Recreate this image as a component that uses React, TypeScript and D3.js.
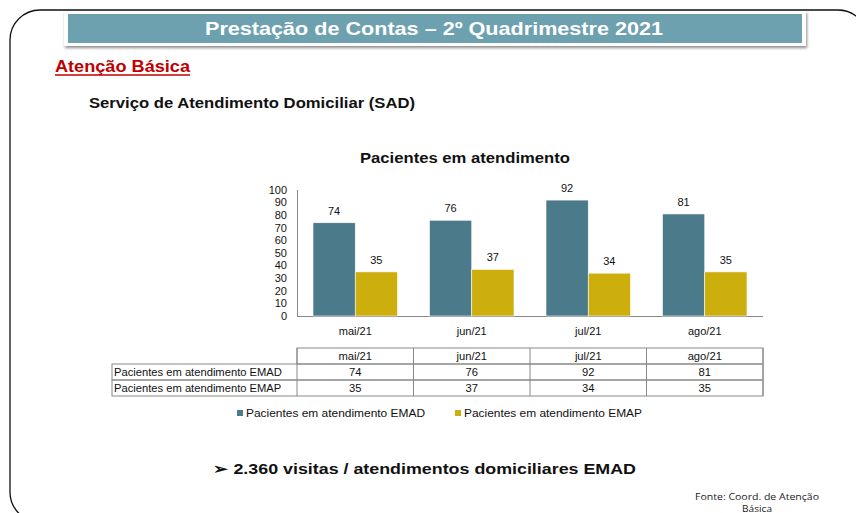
import React from "react";
import * as d3 from "d3";

const categories = ["mai/21", "jun/21", "jul/21", "ago/21"];
const seriesNames = ["Pacientes em atendimento EMAD", "Pacientes em atendimento EMAP"];
const emad = [74, 76, 92, 81];
const emap = [35, 37, 34, 35];
const yTicks = [0, 10, 20, 30, 40, 50, 60, 70, 80, 90, 100];
const colors = ["#4B7A8A", "#CCAE0C"];

const W = 856;
const H = 513;
const FONT = "'Liberation Sans', Arial, sans-serif";

export default function App() {
  const x0 = d3.scaleBand<string>().domain(categories).range([297, 763]).paddingInner(0).paddingOuter(0);
  const x1 = d3.scaleBand<string>().domain(["emad", "emap"]).range([16, x0.bandwidth() - 16]).padding(0);
  const y = d3.scaleLinear().domain([0, 100]).range([316, 190]);
  const series = [emad, emap];
  const keys = ["emad", "emap"];

  const tableTop = 348;
  const rowH = 16;
  const tableLeft = 112;
  const colStart = 297;

  return (
    <svg width={W} height={H} style={{ position: "absolute", left: 0, top: 0, background: "#fff" }}>
      <defs>
        <filter id="sh" x="-5%" y="-30%" width="110%" height="170%">
          <feDropShadow dx="1" dy="2" stdDeviation="1.5" floodColor="#000" floodOpacity="0.45" />
        </filter>
      </defs>
      <rect x={0} y={0} width={W} height={H} fill="#fff" />
      {/* outer rounded border */}
      <rect x={10} y={10} width={858} height={512} rx={30} ry={30} fill="none" stroke="#111" strokeWidth={1.3} />
      {/* banner */}
      <rect x={64} y={11} width={742} height={35} fill="#fff" filter="url(#sh)" />
      <rect x={68} y={14} width={734} height={29} fill="#6DA1AF" />
      <text x={434} y={35} textAnchor="middle" fill="#fff" fontFamily={FONT} fontWeight="bold" fontSize={19}
        textLength={458} lengthAdjust="spacingAndGlyphs">
        Prestação de Contas – 2º Quadrimestre 2021
      </text>
      {/* section */}
      <text x={55} y={72} fill="#C00000" fontFamily={FONT} fontWeight="bold" fontSize={17}
        textLength={135} lengthAdjust="spacingAndGlyphs">
        Atenção Básica
      </text>
      <line x1={55} x2={190} y1={75} y2={75} stroke="#C00000" strokeWidth={1.6} />
      <text x={89} y={108} fill="#111" fontFamily={FONT} fontWeight="bold" fontSize={14}
        textLength={326} lengthAdjust="spacingAndGlyphs">
        Serviço de Atendimento Domiciliar (SAD)
      </text>
      {/* chart title */}
      <text x={465} y={163} textAnchor="middle" fill="#111" fontFamily={FONT} fontWeight="bold" fontSize={14}
        textLength={210} lengthAdjust="spacingAndGlyphs">
        Pacientes em atendimento
      </text>
      {/* y axis */}
      <line x1={297.5} x2={297.5} y1={y(100)} y2={y(0)} stroke="#888" strokeWidth={1} />
      <line x1={297} x2={763} y1={y(0) + 0.5} y2={y(0) + 0.5} stroke="#888" strokeWidth={1} />
      {yTicks.map((t) => (
        <text key={t} x={287} y={y(t)} dy="0.35em" textAnchor="end" fontFamily={FONT} fontSize={11} fill="#111">
          {t}
        </text>
      ))}
      {/* bars */}
      {categories.map((c, i) => (
        <g key={c} transform={`translate(${x0(c)},0)`}>
          {keys.map((k, j) => (
            <g key={k}>
              <rect x={x1(k)} y={y(series[j][i])} width={x1.bandwidth()} height={y(0) - y(series[j][i])}
                fill={colors[j]} stroke="#fff" strokeWidth={0.6} />
              <text x={(x1(k) as number) + x1.bandwidth() / 2} y={y(series[j][i]) - 8} textAnchor="middle"
                fontFamily={FONT} fontSize={11} fill="#111">
                {series[j][i]}
              </text>
            </g>
          ))}
          <text x={x0.bandwidth() / 2} y={335} textAnchor="middle" fontFamily={FONT} fontSize={11} fill="#111">
            {c}
          </text>
        </g>
      ))}
      {/* data table */}
      <g fontFamily={FONT} fontSize={11.2} fill="#111">
        <rect x={colStart} y={tableTop} width={763 - colStart} height={rowH} fill="none" stroke="#888" />
        {categories.map((c) => (
          <g key={c}>
            <line x1={x0(c)} x2={x0(c)} y1={tableTop} y2={tableTop + rowH * 3} stroke="#888" />
            <text x={(x0(c) as number) + x0.bandwidth() / 2} y={tableTop + 12} textAnchor="middle">{c}</text>
          </g>
        ))}
        <line x1={763} x2={763} y1={tableTop} y2={tableTop + rowH * 3} stroke="#888" />
        {series.map((s, j) => (
          <g key={j}>
            <rect x={tableLeft} y={tableTop + rowH * (j + 1)} width={763 - tableLeft} height={rowH} fill="none" stroke="#888" />
            <text x={tableLeft + 2} y={tableTop + rowH * (j + 1) + 12}>{seriesNames[j]}</text>
            {s.map((v, i) => (
              <text key={i} x={(x0(categories[i]) as number) + x0.bandwidth() / 2} y={tableTop + rowH * (j + 1) + 12}
                textAnchor="middle">{v}</text>
            ))}
          </g>
        ))}
      </g>
      {/* legend */}
      <g fontFamily={FONT} fontSize={11.5} fill="#111">
        <rect x={237} y={410} width={6} height={6} fill={colors[0]} />
        <text x={246} y={417} textLength={179} lengthAdjust="spacingAndGlyphs">{seriesNames[0]}</text>
        <rect x={455} y={410} width={6} height={6} fill={colors[1]} />
        <text x={464} y={417} textLength={178} lengthAdjust="spacingAndGlyphs">{seriesNames[1]}</text>
      </g>
      {/* bullet */}
      <text x={213} y={474} fontFamily={FONT} fontWeight="bold" fontSize={15} fill="#111"
        textLength={423} lengthAdjust="spacingAndGlyphs">
        ➢ 2.360 visitas / atendimentos domiciliares EMAD
      </text>
      {/* source */}
      <text x={757} y={500} textAnchor="middle" fontFamily="'Open Sans', 'DejaVu Sans', sans-serif" fontSize={9.5}
        fill="#222" textLength={124} lengthAdjust="spacingAndGlyphs">
        Fonte: Coord. de Atenção
      </text>
      <text x={757} y={512} textAnchor="middle" fontFamily="'Open Sans', 'DejaVu Sans', sans-serif" fontSize={9.5}
        fill="#222" textLength={30} lengthAdjust="spacingAndGlyphs">
        Básica
      </text>
    </svg>
  );
}
